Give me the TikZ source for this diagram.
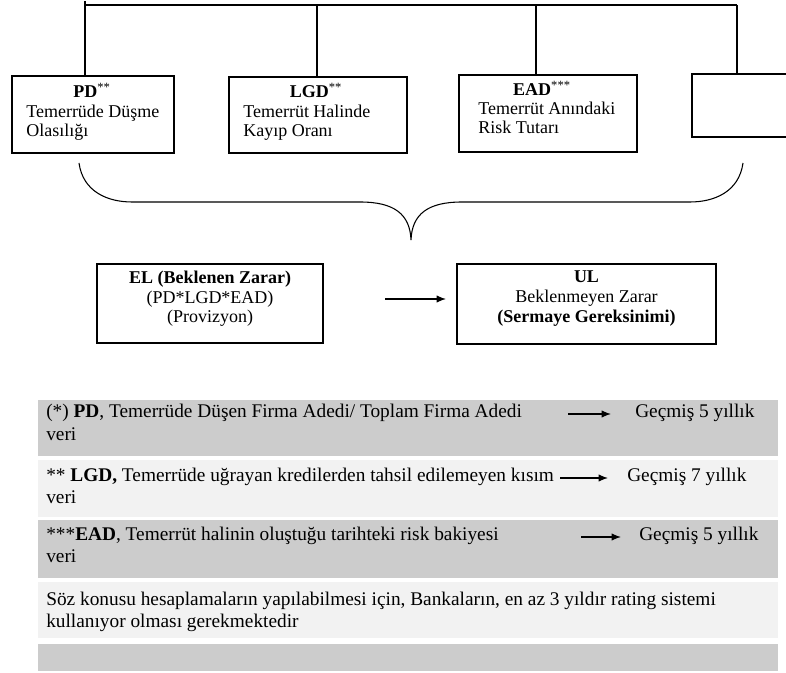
\documentclass[tikz,border=0pt]{standalone}
\usepackage{fontspec}
\setmainfont{Liberation Serif}
\usetikzlibrary{arrows.meta,calc}
\definecolor{rowgray}{HTML}{CCCCCC}
\definecolor{rowlight}{HTML}{F2F2F2}
\newcommand\boxfont{\fontsize{13.5}{16}\selectfont}
\newcommand\tabfont{\fontsize{14.5}{17}\selectfont}
\tikzset{
  boxnode/.style={draw, line width=1.2pt, inner sep=0pt, rectangle},
  conn/.style={line width=0.8pt},
  txt/.style={inner sep=0pt, anchor=base west, font=\boxfont},
  ctxt/.style={inner sep=0pt, anchor=base, font=\boxfont},
  ttxt/.style={inner sep=0pt, anchor=base west, font=\tabfont},
  rowbox/.style={inner sep=0pt, anchor=north west, minimum width=555pt, rectangle},
  arr/.style={line width=0.9pt, -{Latex[length=7pt,width=5.5pt]}},
}
\begin{document}
\begin{tikzpicture}[x=0.75pt,y=-0.75pt]
\clip (0,0) rectangle (786,673);
\fill[white] (0,0) rectangle (786,673);

% top boxes
\node[boxnode, minimum width=121.5pt, minimum height=57.75pt] (PD) at (93,114.5) {};
\node[boxnode, minimum width=133.5pt, minimum height=57pt] (LGD) at (318,115) {};
\node[boxnode, minimum width=133.5pt, minimum height=57.75pt] (EAD) at (548,113.5) {};
\node[boxnode, minimum width=81pt, minimum height=47.25pt] (B4) at (746,105.5) {};

% top connector
\coordinate (h0) at (85,1);
\coordinate (h1) at (85,5);
\coordinate (h2) at (317,5);
\coordinate (h3) at (536,5);
\coordinate (h4) at (737,5);
\draw[conn] (h1) -- (h4);
\draw[conn] (h0) -- (h0 |- PD.north);
\draw[conn] (h2) -- (h2 |- LGD.north);
\draw[conn] (h3) -- (h3 |- EAD.north);
\draw[conn] (h4) -- (h4 |- B4.north);

% texts in top boxes
\node[ctxt] (pdt) at (92,98) {\textbf{PD}\textsuperscript{**}};
\node[txt] (pd1) at (26,118) {Temerrüde Düşme};
\node[txt] (pd2) at (26,137) {Olasılığı};
\node[ctxt] (lgdt) at (316,98) {\textbf{LGD}\textsuperscript{**}};
\node[txt] (lgd1) at (243,118) {Temerrüt Halinde};
\node[txt] (lgd2) at (243,137) {Kayıp Oranı};
\node[ctxt] (eadt) at (542,96) {\textbf{EAD}\textsuperscript{***}};
\node[txt] (ead1) at (478,115) {Temerrüt Anındaki};
\node[txt] (ead2) at (478,134) {Risk Tutarı};

% brace
\draw[line width=0.8pt]
  (79,163) .. controls (83,192) and (108,202) .. (132,202)
  -- (360,202) .. controls (394,202) and (410,214) .. (411,240)
  .. controls (412,214) and (428,202) .. (462,202)
  -- (690,202) .. controls (714,202) and (739,192) .. (743,163);

% EL and UL boxes
\node[boxnode, minimum width=169.5pt, minimum height=59.25pt] (EL) at (210,303.5) {};
\node[boxnode, minimum width=194.25pt, minimum height=60pt] (UL) at (586.5,304) {};
\node[ctxt] (el1) at (210,284) {\textbf{EL (Beklenen Zarar)}};
\node[ctxt] (el2) at (210,304) {(PD*LGD*EAD)};
\node[ctxt] (el3) at (210,323) {(Provizyon)};
\node[ctxt] (ul1) at (586.5,283) {\textbf{UL}};
\node[ctxt] (ul2) at (586.5,303) {Beklenmeyen Zarar};
\node[ctxt] (ul3) at (586.5,323) {\textbf{(Sermaye Gereksinimi)}};
\coordinate (ea) at (385,299);
\coordinate (eb) at (446,299);
\draw[arr] (ea) -- (eb);

% table rows
\node[rowbox, fill=rowgray, minimum height=42pt] (r1) at (38,400) {};
\node[rowbox, fill=rowlight, minimum height=42.75pt] (r2) at (38,460) {};
\node[rowbox, fill=rowgray, minimum height=43.5pt] (r3) at (38,520) {};
\node[rowbox, fill=rowlight, minimum height=42pt] (r4) at (38,582) {};
\node[rowbox, fill=rowgray, minimum height=20.25pt] (r5) at (38,644) {};

% row 1
\node[ttxt] (t1a) at (46,418) {(*) \textbf{PD}, Temerrüde Düşen Firma Adedi/ Toplam Firma Adedi};
\node[ttxt] (t1b) at (46,441) {veri};
\node[ttxt] (t1c) at (635,418) {Geçmiş 5 yıllık};
\coordinate (a1a) at (568,414);
\coordinate (a1b) at (611,414);
\draw[arr] (a1a) -- (a1b);

% row 2
\node[ttxt] (t2a) at (46,482) {** \textbf{LGD,} Temerrüde uğrayan kredilerden tahsil edilemeyen kısım};
\node[ttxt] (t2b) at (46,504) {veri};
\node[ttxt] (t2c) at (627,482) {Geçmiş 7 yıllık};
\coordinate (a2a) at (560,478);
\coordinate (a2b) at (608,478);
\draw[arr] (a2a) -- (a2b);

% row 3
\node[ttxt] (t3a) at (46,541) {***\textbf{EAD}, Temerrüt halinin oluştuğu tarihteki risk bakiyesi};
\node[ttxt] (t3b) at (46,563) {veri};
\node[ttxt] (t3c) at (639,541) {Geçmiş 5 yıllık};
\coordinate (a3a) at (581,537);
\coordinate (a3b) at (621,537);
\draw[arr] (a3a) -- (a3b);

% row 4
\node[ttxt] (t4a) at (46,605) {Söz konusu hesaplamaların yapılabilmesi için, Bankaların, en az 3 yıldır rating sistemi};
\node[ttxt] (t4b) at (46,628) {kullanıyor olması gerekmektedir};
\end{tikzpicture}
\end{document}
